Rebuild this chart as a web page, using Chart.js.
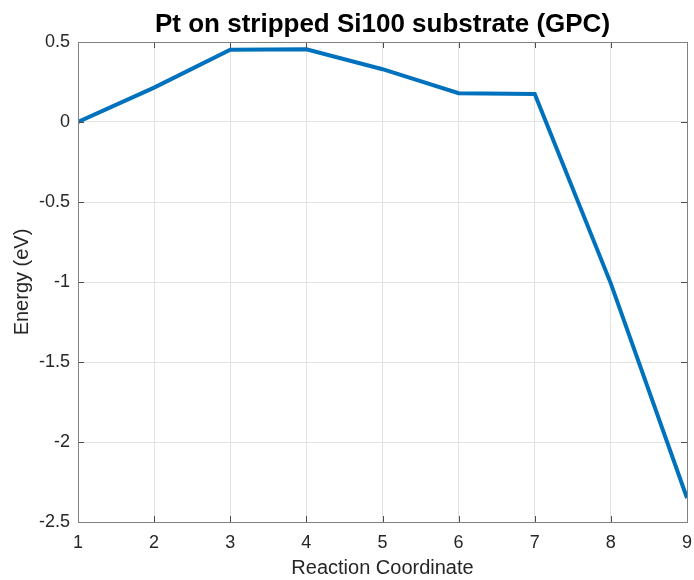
<!DOCTYPE html>
<html>
<head>
<meta charset="utf-8">
<script src="https://cdn.jsdelivr.net/npm/chart.js@4/dist/chart.umd.min.js"></script>
<style>
    html, body { margin: 0; padding: 0; background: #fff; }
    #wrap { width: 694px; height: 580px; }
</style>
</head>
<body>
<div id="wrap"><canvas id="chart"></canvas></div>
<script>
// values
const reactionCoordinate = [1, 2, 3, 4, 5, 6, 7, 8, 9];
const energy = [0, 0.215, 0.452, 0.455, 0.33, 0.18, 0.175, -1.01, -2.35];

const xTicks = [1, 2, 3, 4, 5, 6, 7, 8, 9];
const yTicks = [-2.5, -2, -1.5, -1, -0.5, 0, 0.5];

const titleText = 'Pt on stripped Si100 substrate (GPC)';
const textColor = '#262626';
const font = 'Arial, "Liberation Sans", Helvetica, sans-serif';

// MATLAB style: short tick marks inside the box on all four sides,
// and the title centred over the axes rather than the whole figure
const matlabAxes = {
    id: 'matlabAxes',
    afterDraw(chart) {
        const { ctx, chartArea: a, scales } = chart;
        const len = 6;
        ctx.save();
        ctx.strokeStyle = '#4d4d4d';
        ctx.lineWidth = 1;
        ctx.beginPath();
        xTicks.forEach(v => {
            const x = Math.round(scales.x.getPixelForValue(v)) + 0.5;
            ctx.moveTo(x, a.bottom); ctx.lineTo(x, a.bottom - len);
            ctx.moveTo(x, a.top); ctx.lineTo(x, a.top + len);
        });
        yTicks.forEach(v => {
            const y = Math.round(scales.y.getPixelForValue(v)) + 0.5;
            ctx.moveTo(a.left, y); ctx.lineTo(a.left + len, y);
            ctx.moveTo(a.right, y); ctx.lineTo(a.right - len, y);
        });
        ctx.stroke();
        ctx.strokeStyle = '#808080';
        ctx.strokeRect(a.left + 0.5, a.top + 0.5, a.right - a.left, a.bottom - a.top);

        ctx.fillStyle = '#000';
        ctx.font = 'bold 26px ' + font;
        ctx.textAlign = 'center';
        ctx.textBaseline = 'middle';
        ctx.fillText(titleText, (a.left + a.right) / 2, 25);
        ctx.restore();
    }
};

new Chart(document.getElementById('chart'), {
    type: 'line',
    data: {
        datasets: [{
            data: reactionCoordinate.map((x, i) => ({ x: x, y: energy[i] })),
            borderColor: '#0072BD',
            borderWidth: 4,
            pointRadius: 0,
            tension: 0,
            fill: false,
        }],
    },
    options: {
        responsive: true,
        maintainAspectRatio: false,
        animation: false,
        layout: { padding: { left: 0, right: 7, top: 42, bottom: 0 } },
        plugins: {
            legend: { display: false },
            tooltip: { enabled: false },
            title: { display: false },
        },
        scales: {
            x: {
                type: 'linear',
                min: 1,
                max: 9,
                afterFit(scale) {
                    scale.height = 58;
                    scale.paddingLeft = 0;
                    scale.paddingRight = 0;
                },
                afterBuildTicks(scale) { scale.ticks = xTicks.map(v => ({ value: v })); },
                grid: { color: '#e3e3e3', drawTicks: false },
                border: { display: false },
                ticks: {
                    color: textColor,
                    padding: 10,
                    maxRotation: 0,
                    font: { family: font, size: 18 },
                    callback: v => String(v),
                },
                title: {
                    display: true,
                    text: 'Reaction Coordinate',
                    color: textColor,
                    font: { family: font, size: 20 },
                    padding: { top: 0, bottom: 0 },
                },
            },
            y: {
                min: -2.5,
                max: 0.5,
                afterFit(scale) {
                    scale.width = 78;
                    scale.paddingTop = 0;
                    scale.paddingBottom = 0;
                },
                afterBuildTicks(scale) { scale.ticks = yTicks.map(v => ({ value: v })); },
                grid: { color: '#e3e3e3', drawTicks: false },
                border: { display: false },
                ticks: {
                    color: textColor,
                    padding: 8,
                    font: { family: font, size: 18 },
                    callback: v => String(v),
                },
                title: {
                    display: true,
                    text: 'Energy (eV)',
                    color: textColor,
                    font: { family: font, size: 20 },
                    padding: { top: 10, bottom: 0 },
                },
            },
        },
    },
    plugins: [matlabAxes],
});
</script>
</body>
</html>
